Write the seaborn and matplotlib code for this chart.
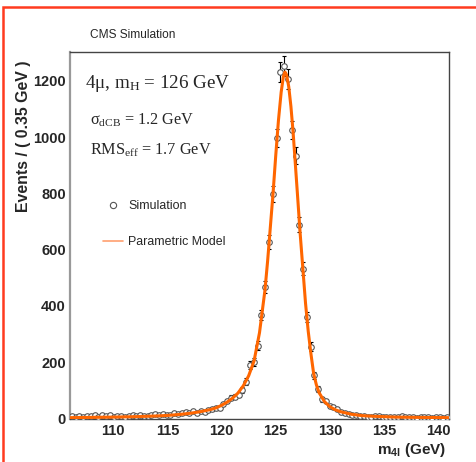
import numpy as np
import pandas as pd
import matplotlib
matplotlib.use("Agg")
import matplotlib.pyplot as plt
import matplotlib.ticker as ticker
from matplotlib.lines import Line2D
from matplotlib.patches import Rectangle
import seaborn as sns

# 4mu, mH = 126 GeV : simulated m4l spectrum, 0.35 GeV bins from 106 to 141 GeV
bin_lo = 106.0
bin_width = 0.35
counts = [8, 7, 9, 6, 10, 8, 12, 5, 11, 9,
          14, 7, 10, 8, 6, 9, 11, 8, 12, 9,
          10, 13, 17, 11, 15, 12, 14, 18, 15, 20,
          22, 19, 25, 21, 26, 24, 30, 33, 38, 36,
          50, 63, 74, 78, 85, 101, 131, 190, 202, 258,
          368, 468, 629, 799, 997, 1231, 1254, 1207, 1024, 934,
          689, 533, 361, 255, 153, 104, 68, 62, 44, 40,
          33, 22, 18, 15, 14, 12, 9, 10, 6, 7,
          9, 8, 6, 5, 7, 4, 6, 8, 5, 4,
          6, 3, 5, 4, 6, 3, 5, 4, 3, 5]

# parametric (double Crystal Ball) model
model_mass = [106, 108, 110, 112, 114, 115, 116, 117, 118, 119,
              119.5, 120, 120.5, 121, 121.5, 122, 122.5, 123, 123.5, 124,
              124.25, 124.5, 124.75, 125, 125.25, 125.5, 125.7, 125.85, 126.0, 126.2,
              126.4, 126.6, 126.8, 127.0, 127.25, 127.5, 127.75, 128, 128.25, 128.5,
              128.75, 129, 129.5, 130, 130.5, 131, 132, 133, 134, 136, 138, 141]
model_events = [3, 4, 5, 6.5, 9, 11, 14, 18, 24, 32,
                38, 47, 58, 72, 90, 116, 152, 205, 305, 455,
                560, 680, 800, 935, 1060, 1160, 1215, 1232, 1222, 1180,
                1110, 1020, 910, 800, 660, 535, 410, 310, 230, 160,
                120, 92, 60, 42, 31, 24, 15, 10, 8, 5, 4, 3]

x_ticks = [110, 115, 120, 125, 130, 135, 140]
y_ticks = [0, 200, 400, 600, 800, 1000, 1200]

sns.set_style("white")
plt.rcParams["font.family"] = ["Liberation Sans", "DejaVu Sans"]
plt.rcParams["mathtext.fontset"] = "custom"
plt.rcParams["mathtext.rm"] = "Liberation Serif"
plt.rcParams["mathtext.it"] = "Liberation Serif:italic"
plt.rcParams["mathtext.bf"] = "Liberation Sans:bold"

W, H = 476, 462
def fx(px):
    return px / W
def fy(py):
    return 1 - py / H

centers = bin_lo + bin_width * (np.arange(len(counts)) + 0.5)
sim = pd.DataFrame({"mass": centers, "events": counts})
model = pd.DataFrame({"mass": model_mass, "events": model_events})

fig = plt.figure(figsize=(W / 100, H / 100), dpi=100)
ax = fig.add_axes([fx(70), fy(418.5), (449 - 70) / W, (418.5 - 52.3) / H])

ax.errorbar(sim["mass"], sim["events"], yerr=np.sqrt(sim["events"]), fmt="none",
            ecolor="black", elinewidth=0.8, capsize=1.5, capthick=0.8, zorder=2)
sns.scatterplot(data=sim, x="mass", y="events", marker="o", s=16, color="white",
                edgecolor="#555555", linewidth=0.8, ax=ax, zorder=3)
sns.lineplot(data=model, x="mass", y="events", color="#ff6600", lw=2.2, ax=ax, zorder=4)

ax.set_xlim(106, 141)
ax.set_ylim(0, 1302)
ax.set_xticks(x_ticks)
ax.set_yticks(y_ticks)
ax.xaxis.set_minor_locator(ticker.MultipleLocator(1))
ax.yaxis.set_minor_locator(ticker.MultipleLocator(50))
ax.tick_params(which="both", direction="in", top=False, right=False, color="#333333",
               labelsize=10.5)
ax.tick_params(axis="x", pad=4)
ax.tick_params(axis="y", pad=3)
ax.tick_params(which="major", length=8, width=0.9)
ax.tick_params(which="minor", length=5, width=0.8)
for lab in ax.get_xticklabels() + ax.get_yticklabels():
    lab.set_fontweight("bold")
ax.set_xlabel("")
ax.set_ylabel("")
for side in ["top", "right", "bottom"]:
    ax.spines[side].set_color("#444444")
    ax.spines[side].set_linewidth(1.0)
ax.spines["left"].set_color("#999999")
ax.spines["left"].set_linewidth(1.6)

fig.text(fx(24), fy(60), "Events / ( 0.35 GeV )", rotation=90, ha="center", va="top",
         fontsize=11.4, fontweight="bold")
fig.text(fx(446), fy(454), r"m$_{\mathbf{4l}}$ (GeV)", ha="right", va="baseline",
         fontsize=11.0, fontweight="bold")
fig.text(fx(90), fy(35), "CMS Simulation", ha="left", va="center", fontsize=8.6)

serif = ["Liberation Serif", "DejaVu Serif"]
fig.text(fx(85), fy(88), r"4μ, m$_{\mathrm{H}}$ = 126 GeV", family=serif, fontsize=13.7,
         ha="left", va="baseline")
fig.text(fx(90), fy(125), r"σ$_{\mathrm{dCB}}$ = 1.2 GeV", family=serif, fontsize=11.7,
         ha="left", va="baseline")
fig.text(fx(90), fy(155), r"RMS$_{\mathrm{eff}}$ = 1.7 GeV", family=serif, fontsize=11.7,
         ha="left", va="baseline")

handles = [
    Line2D([], [], marker="o", ls="none", mfc="white", mec="#555555", mew=0.8, ms=4.5),
    Line2D([], [], color="#ffa070", lw=1.2),
]
ax.legend(handles, ["Simulation", "Parametric Model"], loc="upper left",
          bbox_to_anchor=(fx(103), fy(200)), bbox_transform=fig.transFigure,
          frameon=False, fontsize=8.9, borderpad=0, borderaxespad=0,
          labelspacing=1.95, handlelength=1.6, handletextpad=0.42)

fig.patches.append(Rectangle((fx(3), -0.1), 1.2, fy(7) + 0.1, transform=fig.transFigure,
                             fill=False, edgecolor="#ff3b1f", lw=1.8, clip_on=False))

fig.savefig("out.png", dpi=100)
